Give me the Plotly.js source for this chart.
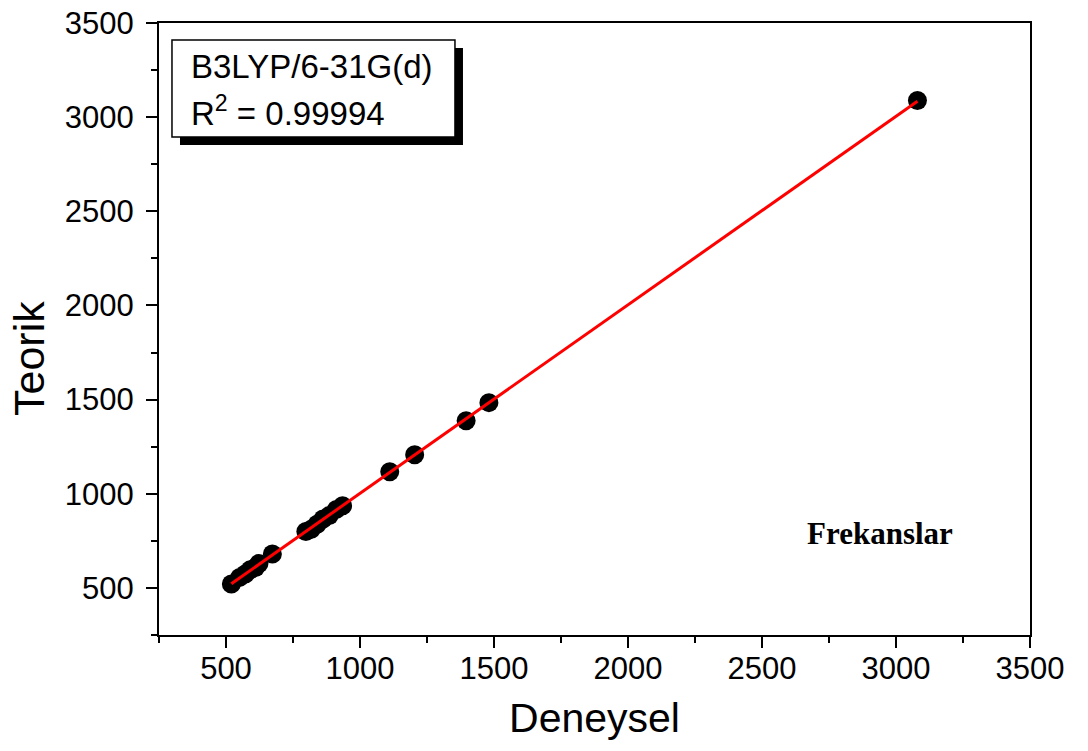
<!DOCTYPE html>
<html>
<head>
<meta charset="utf-8">
<script src="https://cdn.plot.ly/plotly-3.0.1.min.js"></script>
<style>
  html, body { margin: 0; padding: 0; background: #ffffff; }
  #chart { width: 1088px; height: 751px; }
</style>
</head>
<body>
<div id="chart"></div>
<script>
// Experimental (Deneysel) vs theoretical (Teorik) frequencies, cm^-1
const deneysel = [520, 551, 572, 590, 610, 623, 673, 798, 818, 840, 862, 885, 912, 935, 1111, 1204, 1396, 1481, 3080];
const teorik   = [521, 556, 574, 596, 608, 630, 680, 800, 812, 838, 866, 884, 917, 936, 1117, 1207, 1388, 1484, 3088];

const tickVals = [500, 1000, 1500, 2000, 2500, 3000, 3500];
const tickText = ['500', '1000', '1500', '2000', '2500', '3000', '3500'];

const boxLine1 = 'B3LYP/6-31G(d)';
const boxLine2 = 'R<sup>2</sup> = 0.99994';
const noteText = 'Frekanslar';
const xTitle = 'Deneysel';
const yTitle = 'Teorik';

// least-squares fit from the data
const n = deneysel.length;
const mx = deneysel.reduce((a, b) => a + b, 0) / n;
const my = teorik.reduce((a, b) => a + b, 0) / n;
let sxy = 0, sxx = 0;
for (let i = 0; i < n; i++) {
  sxy += (deneysel[i] - mx) * (teorik[i] - my);
  sxx += (deneysel[i] - mx) * (deneysel[i] - mx);
}
const slope = sxy / sxx;
const intercept = my - slope * mx;
const xMin = Math.min(...deneysel), xMax = Math.max(...deneysel);
const fitX = [xMin, xMax];
const fitY = fitX.map(v => intercept + slope * v);

const FONT = 'Arial, "Liberation Sans", Helvetica, sans-serif';

const traces = [
  {
    x: deneysel, y: teorik, type: 'scatter', mode: 'markers',
    marker: { color: '#000000', size: 19, line: { width: 0 } },
    hoverinfo: 'x+y', showlegend: false
  },
  {
    x: fitX, y: fitY, type: 'scatter', mode: 'lines',
    line: { color: '#ff0000', width: 3 },
    hoverinfo: 'skip', showlegend: false
  }
];

const axisCommon = {
  range: [250, 3500],
  tickmode: 'array',
  tickvals: tickVals,
  ticktext: tickText,
  ticks: 'outside',
  ticklen: 11,
  tickwidth: 2,
  tickcolor: '#000000',
  showline: true,
  linecolor: '#000000',
  linewidth: 2,
  mirror: true,
  showgrid: false,
  zeroline: false,
  tickfont: { family: FONT, size: 31, color: '#000000' },
  minor: { dtick: 250, tick0: 250, ticks: 'outside', ticklen: 6, tickwidth: 2, tickcolor: '#000000', showgrid: false },
  fixedrange: true
};

const layout = {
  width: 1088,
  height: 751,
  margin: { l: 159, r: 58, t: 23, b: 116 },
  paper_bgcolor: '#ffffff',
  plot_bgcolor: '#ffffff',
  showlegend: false,
  xaxis: Object.assign({}, axisCommon, {
    title: { text: xTitle, font: { family: FONT, size: 41, color: '#000000' }, standoff: 18 },
    ticklabelstandoff: -6
  }),
  yaxis: Object.assign({}, axisCommon, {
    ticklabelstandoff: 6
  }),
  shapes: [
    { type: 'rect', xref: 'paper', yref: 'paper', x0: 0.0241, x1: 0.349, y0: 0.8007, y1: 0.959,
      fillcolor: '#000000', line: { width: 0 }, layer: 'above' },
    { type: 'rect', xref: 'paper', yref: 'paper', x0: 0.0149, x1: 0.3398, y0: 0.8137, y1: 0.9722,
      fillcolor: '#ffffff', line: { color: '#000000', width: 1.5 }, layer: 'above' }
  ],
  annotations: [
    { text: yTitle, xref: 'paper', yref: 'paper', x: (29 - 159) / 871, y: (635 - 359) / 612,
      xanchor: 'center', yanchor: 'middle', textangle: -90, showarrow: false,
      font: { family: FONT, size: 43, color: '#000000' } },
    { text: boxLine1, xref: 'paper', yref: 'paper', x: (189 - 159) / 871, y: (635 - 67) / 612,
      xanchor: 'left', yanchor: 'middle', showarrow: false,
      font: { family: FONT, size: 33, color: '#000000' } },
    { text: boxLine2, xref: 'paper', yref: 'paper', x: (189 - 159) / 871, y: (635 - 111) / 612,
      xanchor: 'left', yanchor: 'middle', showarrow: false,
      font: { family: FONT, size: 33, color: '#000000' } },
    { text: '<b>' + noteText + '</b>', xref: 'paper', yref: 'paper', x: (880 - 159) / 871, y: (635 - 533) / 612,
      xanchor: 'center', yanchor: 'middle', showarrow: false,
      font: { family: '"Liberation Serif", "Times New Roman", serif', size: 31, color: '#000000' } }
  ]
};

Plotly.newPlot('chart', traces, layout, { staticPlot: true, displayModeBar: false });
</script>
</body>
</html>
